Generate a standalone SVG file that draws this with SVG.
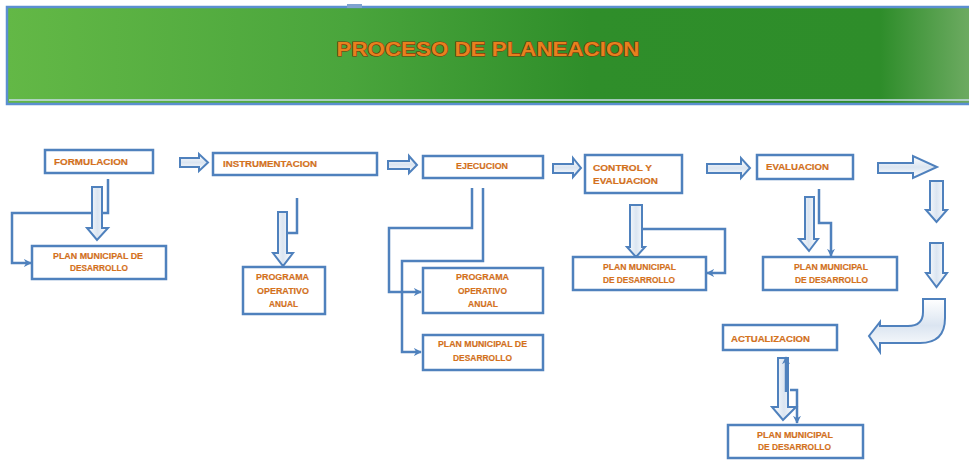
<svg xmlns="http://www.w3.org/2000/svg" width="969" height="460" viewBox="0 0 969 460">
<style>
.box{fill:#ffffff;stroke:#4f81bd;stroke-width:2.5}
.lbl{font-family:"Liberation Sans",Arial,sans-serif;font-weight:bold;font-size:8.5px;fill:#d8731c;stroke:#b85d14;stroke-width:0.15}
.barrow{fill:url(#bag);stroke:#4f81bd;stroke-width:2;stroke-linejoin:miter}
.barrowv{fill:url(#bagv);stroke:#4f81bd;stroke-width:2;stroke-linejoin:miter}
.conn{fill:none;stroke:#4f81bd;stroke-width:2.5}
.title{font-family:"Liberation Sans",Arial,sans-serif;font-weight:bold;font-size:20px;fill:#e8801e;stroke:#6e360a;stroke-width:1.2;paint-order:stroke}
</style>
<defs>
<linearGradient id="hdr" x1="0" y1="0" x2="1" y2="0">
<stop offset="0" stop-color="#63b846"/>
<stop offset="0.35" stop-color="#4aa53c"/>
<stop offset="0.6" stop-color="#2f8e2a"/>
<stop offset="0.9" stop-color="#2e8d2a"/>
<stop offset="1" stop-color="#72ad66"/>
</linearGradient>
<linearGradient id="bag" x1="0" y1="0" x2="0" y2="1">
<stop offset="0" stop-color="#ffffff"/>
<stop offset="0.5" stop-color="#dbe5f1"/>
<stop offset="1" stop-color="#ffffff"/>
</linearGradient>
<linearGradient id="bagv" x1="0" y1="0" x2="1" y2="0">
<stop offset="0" stop-color="#ffffff"/>
<stop offset="0.5" stop-color="#dbe5f1"/>
<stop offset="1" stop-color="#ffffff"/>
</linearGradient>
<marker id="ah" viewBox="0 0 10 10" refX="9" refY="5" markerWidth="8" markerHeight="8" markerUnits="userSpaceOnUse" orient="auto">
<path d="M0,0 L10,5 L0,10 L3,5 Z" fill="#4f81bd"/>
</marker>
</defs>

<g id="header">
<rect x="7" y="7" width="970" height="97" fill="url(#hdr)" stroke="#5b8fd0" stroke-width="2.5"/>
<line x1="9" y1="100" x2="969" y2="100" stroke="#c9dde8" stroke-width="1.5"/>
<rect x="347" y="4" width="15" height="4" fill="#7fa3d0"/>
<text class="title" x="488" y="56" text-anchor="middle" textLength="303" lengthAdjust="spacingAndGlyphs">PROCESO DE PLANEACION</text>
</g>

<g id="connectors">
<path class="conn" d="M108,179 V213 H12 V263 H31" marker-end="url(#ah)"/>
<path class="conn" d="M297,198 V233 H288"/>
<path class="conn" d="M472,188 V228 H389 V292 H421" marker-end="url(#ah)"/>
<path class="conn" d="M483,188 V261 H402 V352 H421" marker-end="url(#ah)"/>
<path class="conn" d="M641,205 V229 H725 V273 H707" marker-end="url(#ah)"/>
<path class="conn" d="M819,189 V223 H831 V256" marker-end="url(#ah)"/>
<path class="conn" d="M790,390 H797 V423" marker-end="url(#ah)"/>
<!-- block arrows -->
<path class="barrow" d="M180,158 H199 V154 L208,162.5 L199,171 V167 H180 Z"/>
<path class="barrow" d="M388,161 H409 V156 L417,165 L409,173 V169 H388 Z"/>
<path class="barrow" d="M553,164 H573 V158 L581,168 L573,177 V173 H553 Z"/>
<path class="barrow" d="M707,164 H741 V158 L750,168 L741,178 V173 H707 Z"/>
<path class="barrow" d="M878,163 H913 V156 L937,167 L913,178 V173 H878 Z"/>
<path class="barrowv" d="M92,187 H102 V228 H108 L97,240 L87,228 H92 Z"/>
<path class="barrowv" d="M278,212 H287 V253 H293 L283,266 L273,253 H278 Z"/>
<path class="barrowv" d="M630,205 H642 V247 H645 L636,257 L627,247 H630 Z"/>
<path class="barrowv" d="M805,197 H814 V239 H818 L809,251 L799,239 H805 Z"/>
<path class="barrowv" d="M930,181 H943 V210 H947 L936.5,222 L926,210 H930 Z"/>
<path class="barrowv" d="M930,243 H943 V273 H947 L936.5,287 L926,273 H930 Z"/>
<path class="barrowv" d="M778,358 H788 V407 H796 L783,420 L772,407 H778 Z"/>
<path class="conn" d="M786,392 V357" stroke-width="1" marker-end="url(#ah)"/>
<path class="barrow" d="M923,299 H945 V318 Q945,343 920,343 H880 V352 L869,336 L880,322 V326 H908 Q923,326 923,312 Z"/>
</g>

<g id="formulacion">
<rect class="box" x="45" y="150" width="108" height="23"/>
<text class="lbl" x="54" y="165" textLength="74" lengthAdjust="spacingAndGlyphs">FORMULACION</text>
</g>
<g id="instrumentacion">
<rect class="box" x="213" y="153" width="164" height="22"/>
<text class="lbl" x="223" y="167" textLength="94" lengthAdjust="spacingAndGlyphs">INSTRUMENTACION</text>
</g>
<g id="ejecucion">
<rect class="box" x="423" y="156" width="120" height="22"/>
<text class="lbl" x="456" y="169" textLength="52" lengthAdjust="spacingAndGlyphs">EJECUCION</text>
</g>
<g id="control">
<rect class="box" x="585" y="155" width="97" height="38"/>
<text class="lbl" x="593" y="171" textLength="59" lengthAdjust="spacingAndGlyphs">CONTROL Y</text>
<text class="lbl" x="593" y="184" textLength="65" lengthAdjust="spacingAndGlyphs">EVALUACION</text>
</g>
<g id="evaluacion">
<rect class="box" x="757" y="155" width="96" height="24"/>
<text class="lbl" x="766" y="170" textLength="63" lengthAdjust="spacingAndGlyphs">EVALUACION</text>
</g>
<g id="plan1">
<rect class="box" x="32" y="246" width="134" height="33"/>
<text class="lbl" x="53" y="259" textLength="90" lengthAdjust="spacingAndGlyphs">PLAN MUNICIPAL DE</text>
<text class="lbl" x="70" y="271" textLength="58" lengthAdjust="spacingAndGlyphs">DESARROLLO</text>
</g>
<g id="programa1">
<rect class="box" x="243" y="267" width="82" height="47"/>
<text class="lbl" x="256" y="280" textLength="53" lengthAdjust="spacingAndGlyphs">PROGRAMA</text>
<text class="lbl" x="257" y="294" textLength="52" lengthAdjust="spacingAndGlyphs">OPERATIVO</text>
<text class="lbl" x="269" y="307" textLength="29" lengthAdjust="spacingAndGlyphs">ANUAL</text>
</g>
<g id="programa2">
<rect class="box" x="423" y="268" width="120" height="45"/>
<text class="lbl" x="456" y="280" textLength="53" lengthAdjust="spacingAndGlyphs">PROGRAMA</text>
<text class="lbl" x="458" y="294" textLength="49" lengthAdjust="spacingAndGlyphs">OPERATIVO</text>
<text class="lbl" x="468" y="307" textLength="30" lengthAdjust="spacingAndGlyphs">ANUAL</text>
</g>
<g id="plan3">
<rect class="box" x="423" y="335" width="120" height="35"/>
<text class="lbl" x="438" y="347" textLength="89" lengthAdjust="spacingAndGlyphs">PLAN MUNICIPAL DE</text>
<text class="lbl" x="453" y="361" textLength="59" lengthAdjust="spacingAndGlyphs">DESARROLLO</text>
</g>
<g id="plan-control">
<rect class="box" x="573" y="257" width="133" height="33"/>
<text class="lbl" x="603" y="270" textLength="73" lengthAdjust="spacingAndGlyphs">PLAN MUNICIPAL</text>
<text class="lbl" x="603" y="283" textLength="72" lengthAdjust="spacingAndGlyphs">DE DESARROLLO</text>
</g>
<g id="plan-eval">
<rect class="box" x="763" y="257" width="134" height="33"/>
<text class="lbl" x="794" y="270" textLength="74" lengthAdjust="spacingAndGlyphs">PLAN MUNICIPAL</text>
<text class="lbl" x="795" y="283" textLength="73" lengthAdjust="spacingAndGlyphs">DE DESARROLLO</text>
</g>
<g id="actualizacion">
<rect class="box" x="723" y="325" width="114" height="25"/>
<text class="lbl" x="731" y="342" textLength="79" lengthAdjust="spacingAndGlyphs">ACTUALIZACION</text>
</g>
<g id="plan-act">
<rect class="box" x="728" y="425" width="135" height="33"/>
<text class="lbl" x="757" y="438" textLength="76" lengthAdjust="spacingAndGlyphs">PLAN MUNICIPAL</text>
<text class="lbl" x="758" y="450" textLength="73" lengthAdjust="spacingAndGlyphs">DE DESARROLLO</text>
</g>
</svg>
